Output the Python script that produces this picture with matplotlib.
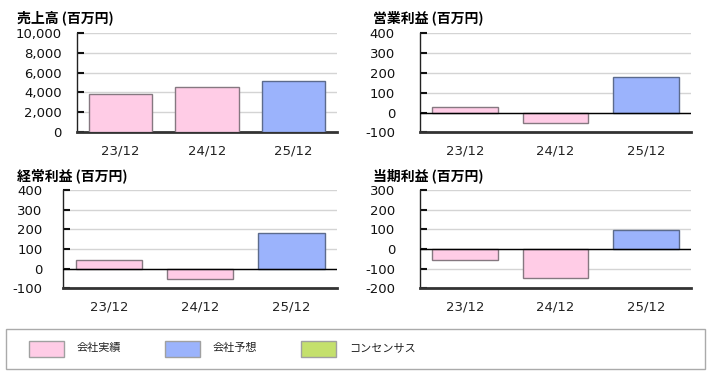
import matplotlib
matplotlib.use("Agg")
import matplotlib.pyplot as plt
from matplotlib.patches import Rectangle

plt.rcParams['font.family'] = ['DejaVu Sans', 'Noto Sans CJK JP']

# data (百万円)
periods = ['23/12', '24/12', '25/12']
kinds = ['actual', 'actual', 'forecast']
sales = [3800, 4570, 5150]
op_income = [30, -55, 180]
ord_income = [45, -55, 180]
net_income = [-55, -150, 97]

legend_labels = ['会社実績', '会社予想', 'コンセンサス']

fill = {'actual': '#ffcce6', 'forecast': '#9bb3fc', 'consensus': '#c4e06c'}
edge = {'actual': '#857880', 'forecast': '#5c6b8c'}

W, H = 708, 374
fig = plt.figure(figsize=(W / 100, H / 100), dpi=100)


def px_axes(left, top, right, bottom):
    return fig.add_axes([left / W, 1 - bottom / H, (right - left) / W, (bottom - top) / H])


def draw_panel(box, title, title_xy, values, ylim, step, fmt, pad):
    ax = px_axes(*box)
    colors = [fill[k] for k in kinds]
    edges = [edge[k] for k in kinds]
    ax.bar(range(len(periods)), values, width=0.73, color=colors,
           edgecolor=edges, linewidth=1, zorder=3)
    ax.set_xlim(-0.5, len(periods) - 0.5)
    ax.set_ylim(*ylim)
    ticks = list(range(ylim[0], ylim[1] + 1, step))
    ax.set_yticks(ticks)
    ax.set_yticklabels([fmt(t) for t in ticks])
    ax.set_xticks(range(len(periods)))
    ax.set_xticklabels(periods)
    ax.grid(axis='y', color='#d4d4d4', linewidth=1, zorder=0)
    for s in ['top', 'right']:
        ax.spines[s].set_visible(False)
    ax.spines['left'].set_color('#222222')
    ax.spines['left'].set_linewidth(1)
    ax.spines['bottom'].set_color('#333333')
    ax.spines['bottom'].set_linewidth(2)
    if ylim[0] < 0:
        ax.axhline(0, color='black', linewidth=1, zorder=4)
    ax.tick_params(axis='y', direction='in', length=5, width=1.5, pad=pad,
                   labelsize=9.5, colors='#111111')
    ax.tick_params(axis='x', length=0, pad=9, labelsize=9.5, colors='#222222')
    fig.text(title_xy[0] / W, 1 - title_xy[1] / H, title, fontsize=10,
             fontweight='bold', va='center', ha='left',
             family=['Noto Sans CJK JP', 'DejaVu Sans'])
    return ax


draw_panel((77, 33.3, 337, 131.7), '売上高 (百万円)', (17, 18), sales,
           (0, 10000), 2000, lambda v: f'{v:,}', 11)
draw_panel((420, 33.3, 691, 132.3), '営業利益 (百万円)', (373, 18), op_income,
           (-100, 400), 100, lambda v: f'{v}', 18)
draw_panel((63.3, 190, 337, 288.3), '経常利益 (百万円)', (17, 176), ord_income,
           (-100, 400), 100, lambda v: f'{v}', 15)
draw_panel((420, 190, 691, 288.3), '当期利益 (百万円)', (373, 176), net_income,
           (-200, 300), 100, lambda v: f'{v}', 18)

# legend box
fig.patches.append(Rectangle((6 / W, 1 - 368.5 / H), 699 / W, 40 / H,
                             transform=fig.transFigure, facecolor='white',
                             edgecolor='#aaaaaa', linewidth=1))
leg_x = [29, 165, 301]
leg_colors = [fill['actual'], fill['forecast'], fill['consensus']]
for x, c, lab in zip(leg_x, leg_colors, legend_labels):
    fig.patches.append(Rectangle((x / W, 1 - 357 / H), 35 / W, 16 / H,
                                 transform=fig.transFigure, facecolor=c,
                                 edgecolor='#a0a0a0', linewidth=1))
    fig.text((x + 48) / W, 1 - 348 / H, lab, fontsize=8, va='center', ha='left',
             family=['Noto Sans CJK JP', 'DejaVu Sans'], color='#222222')

fig.savefig('out.png', dpi=100)
